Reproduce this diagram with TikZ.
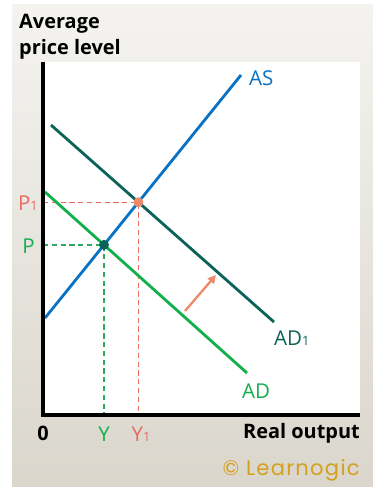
\documentclass[tikz,border=0pt]{standalone}
\usepackage{fontspec}
\setmainfont{Open Sans}
\newfontfamily\brandfont[LetterSpace=6]{Poppins}
\usetikzlibrary{arrows.meta}
\definecolor{asblue}{HTML}{0A72C4}
\definecolor{adgreen}{HTML}{12B04C}
\definecolor{adteal}{HTML}{0B6358}
\definecolor{salmon}{HTML}{EE8A6C}
\definecolor{dashred}{HTML}{E86A5E}
\definecolor{dashgreen}{HTML}{2EA860}
\definecolor{brandgold}{HTML}{D4A020}
\definecolor{paneltop}{HTML}{F4F3F0}
\definecolor{panelbot}{HTML}{DAD6CC}
\tikzset{
  %% Demand / supply curves
  curve/.style={line width=2.4pt},
  %% Dashed guide lines to the axes
  guide/.style={line width=1.1pt, dash pattern=on 4.5pt off 3pt},
  %% Equilibrium points
  eqdot/.style={circle, inner sep=0pt, minimum size=8.5pt},
  %% Labels
  curvelabel/.style={font=\fontsize{17.5}{20}\selectfont, inner sep=0pt},
  axislabel/.style={font=\fontsize{17}{20}\selectfont\bfseries, inner sep=0pt},
}
\newcommand{\idx}[1]{\raisebox{-0.5pt}{\fontsize{11}{13}\selectfont #1}}

\begin{document}
\begin{tikzpicture}[x=0.03cm, y=-0.03cm]

  %% Frame
  \useasboundingbox (0,0) rectangle (373,487);
  \fill[white] (0,0) rectangle (373,487);
  \shade[top color=paneltop, bottom color=panelbot] (12,5) rectangle (373,487);
  \fill[white] (43,62) rectangle (360,415);

  %% Axes
  \coordinate (ytop)   at (43,62);
  \coordinate (origin) at (43,415);
  \coordinate (xend)   at (360,415);

  %% Curves
  \coordinate (as0)  at (45,318);  \coordinate (as1)  at (241,75);
  \coordinate (ad0)  at (45,192);  \coordinate (ad1)  at (247,373);
  \coordinate (adb0) at (51,125);  \coordinate (adb1) at (274,322);
  \coordinate (e0) at (intersection of as0--as1 and ad0--ad1);
  \coordinate (e1) at (intersection of as0--as1 and adb0--adb1);

  %% Guides
  \draw[guide, dashgreen] (e0 -| origin) -- (e0) -- (e0 |- origin);
  \draw[guide, dashred]   (e1 -| origin) -- (e1) -- (e1 |- origin);

  \draw[curve, adteal]  (adb0) -- (adb1);
  \draw[curve, adgreen] (ad0) -- (ad1);
  \draw[curve, asblue]  (as0) -- (as1);

  \draw[line width=2.6pt] (ytop) -- (origin) -- (xend);

  %% Shift arrow
  \coordinate (sh0) at (185,311);
  \coordinate (sh1) at (216,275);
  \draw[salmon, line width=2pt, -{Triangle[length=7pt, width=7pt]}] (sh0) -- (sh1);

  \node[eqdot, fill=adteal] (e0dot) at (e0) {};
  \node[eqdot, fill=salmon] (e1dot) at (e1) {};

  %% Curve labels
  \node[curvelabel, text=asblue, anchor=west]  (aslab)  at (249,78)  {AS};
  \node[curvelabel, text=adteal, anchor=west]  (adblab) at (274,338) {AD\idx{1}};
  \node[curvelabel, text=adgreen, anchor=west] (adlab)  at (242,391) {AD};

  %% Axis labels
  \node[curvelabel, text=dashred, anchor=east]   (p1lab) at (38,203) {P\idx{1}};
  \node[curvelabel, text=adgreen, anchor=east]   (plab)  at (35,246) {P};
  \node[curvelabel, text=adgreen]                (ylab)  at (e0 |- 0,434) {Y};
  \node[curvelabel, text=dashred]                (y1lab) at (141,434) {Y\idx{1}};
  \node[axislabel] (zero) at (origin |- 0,433) {0};
  \node[axislabel, anchor=east] (xlab) at (360,433) {Real output};
  \node[axislabel, font=\fontsize{17}{22}\selectfont\bfseries, anchor=north west, align=left]
    (ylab2) at (19,14) {Average\\price level};

  %% Brand
  \node[inner sep=0pt, anchor=east, text=brandgold,
        font=\brandfont\fontsize{18}{20}\selectfont] (brand) at (360,470) {\textcopyright{} Learnogic};

\end{tikzpicture}
\end{document}
